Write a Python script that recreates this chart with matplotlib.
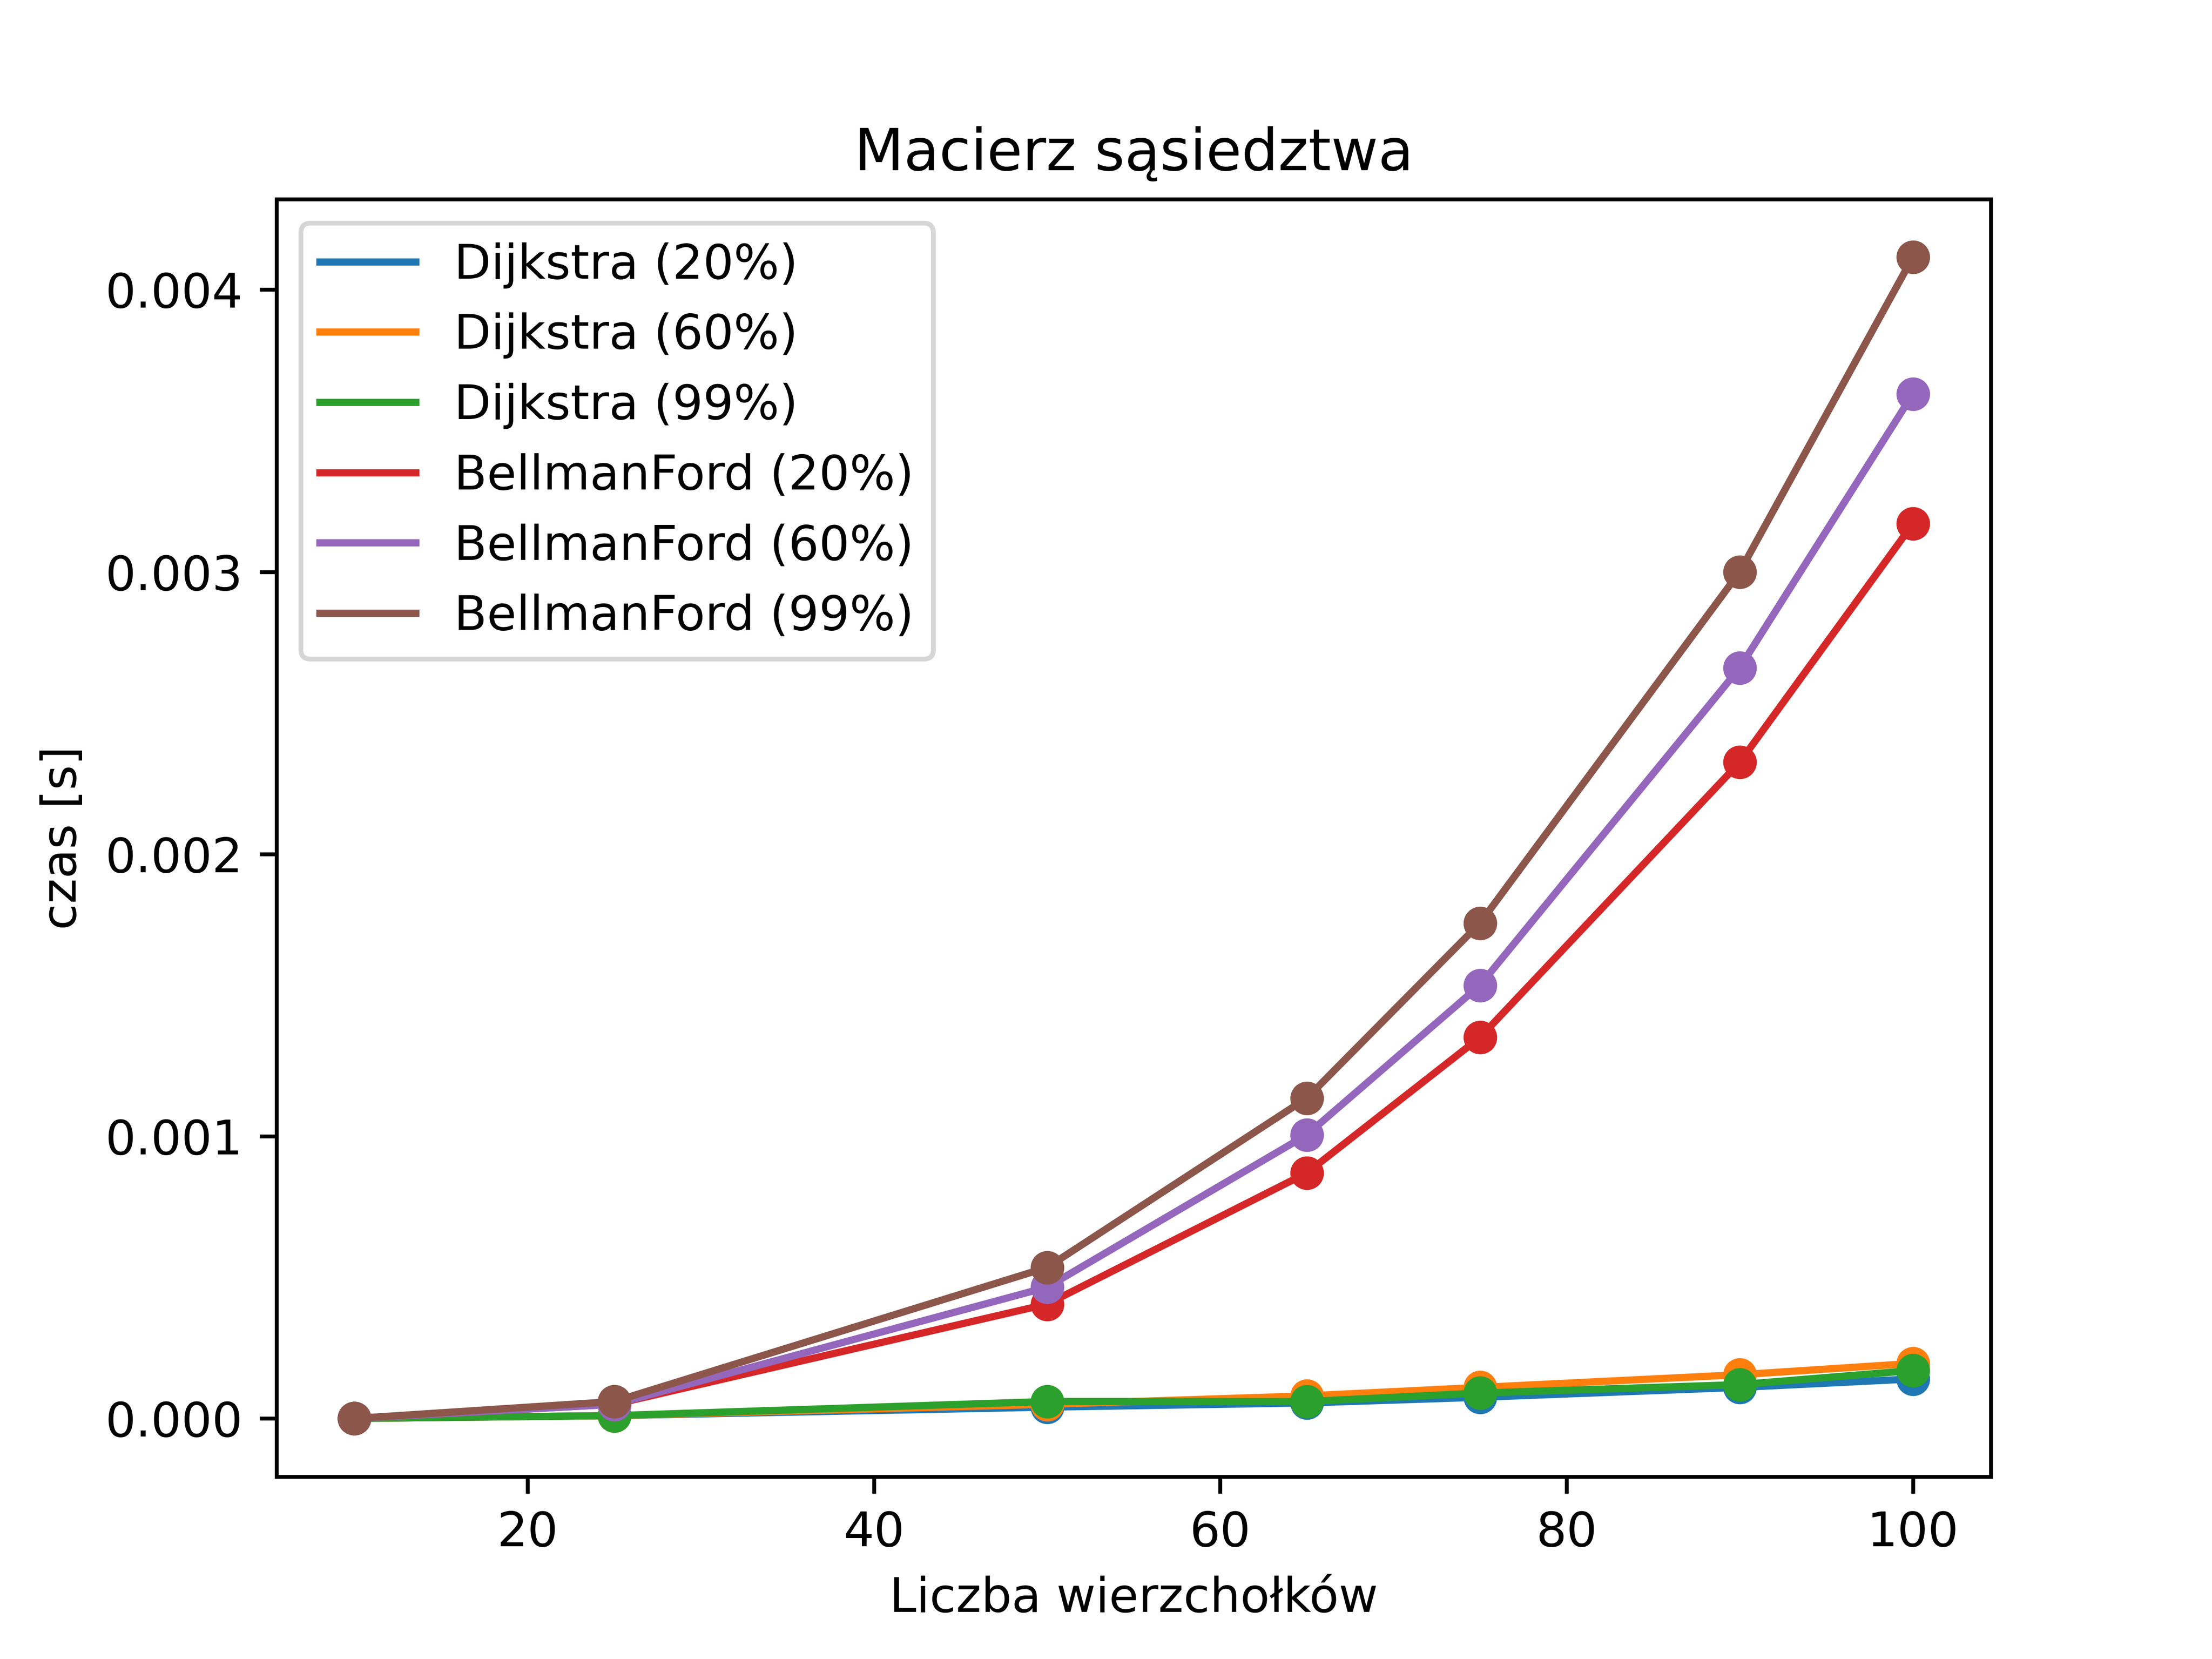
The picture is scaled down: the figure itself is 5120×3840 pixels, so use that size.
import matplotlib.pyplot as plt

vertices = [10, 25, 50, 65, 75, 90, 100]
dijkstra_20 = [0.0, 0.00001, 0.00004, 0.000055, 0.000075, 0.00011, 0.00014]
dijkstra_60 = [0.0, 0.00001, 0.00005, 0.00008, 0.00011, 0.000155, 0.000195]
dijkstra_99 = [0.0, 0.00001, 0.00006, 0.00006, 0.00009, 0.00012, 0.00017]
bellman_20 = [0.0, 0.00005, 0.000405, 0.00087, 0.00135, 0.002325, 0.00317]
bellman_60 = [0.0, 0.00005, 0.000465, 0.001005, 0.001535, 0.00266, 0.00363]
bellman_99 = [0.0, 0.00006, 0.000535, 0.001135, 0.001755, 0.0030, 0.004115]

series = [
    ("Dijkstra (20%)", dijkstra_20),
    ("Dijkstra (60%)", dijkstra_60),
    ("Dijkstra (99%)", dijkstra_99),
    ("BellmanFord (20%)", bellman_20),
    ("BellmanFord (60%)", bellman_60),
    ("BellmanFord (99%)", bellman_99),
]

fig, ax = plt.subplots(figsize=(6.4, 4.8))
for i, (name, vals) in enumerate(series):
    c = f"C{i}"
    ax.plot(vertices, vals, color=c, label=name)
    ax.plot(vertices, vals, "o", color=c)

ax.set_title("Macierz sąsiedztwa")
ax.set_xlabel("Liczba wierzchołków")
ax.set_ylabel("czas [s]")
ax.legend(loc="upper left")
fig.savefig("out.png", dpi=800)
